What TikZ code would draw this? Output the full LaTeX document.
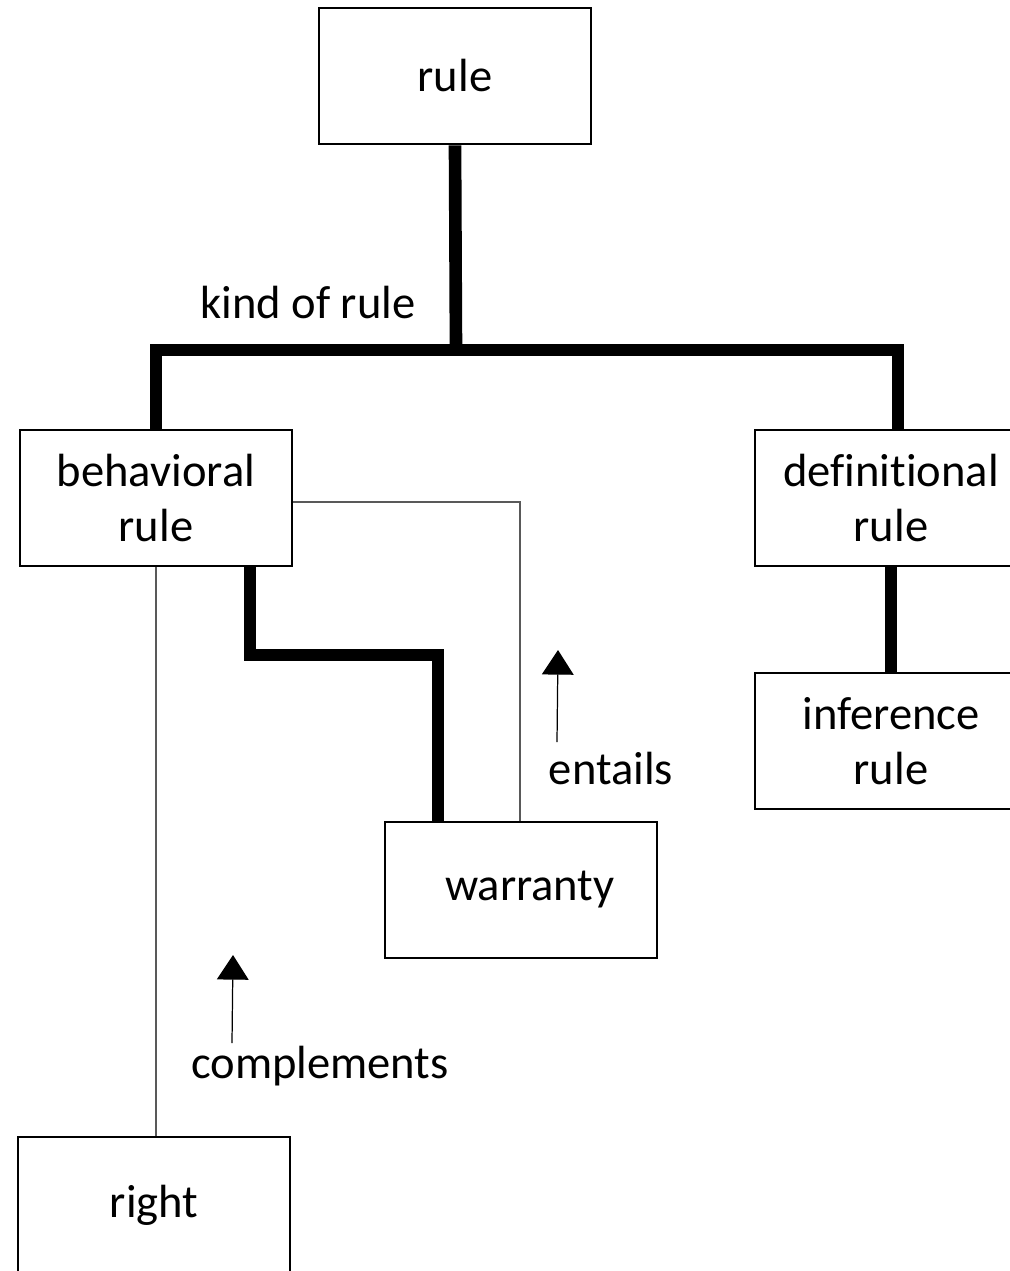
\documentclass[tikz,border=0pt]{standalone}
\usepackage{fontspec}
\setmainfont{Carlito}[Ligatures=NoCommon]
\usetikzlibrary{arrows.meta}
\tikzset{box/.style = {draw, line width=1.6pt, minimum width=5.44cm, minimum height=2.72cm, align=center, inner sep=0pt},
         bar/.style = {line width=7.2pt},
         link/.style = {gray!70!black, line width=0.9pt},
         up/.style = {line width=0.7pt, -{Triangle[width=18pt,length=14pt]}}}

\begin{document}
\begin{tikzpicture}[x=0.02cm, y=-0.02cm, font=\fontsize{26.5}{31}\selectfont]
\useasboundingbox (0,0) rectangle (1009,1271);
% boxes
\node[box] (rule) at (455,76) {rule};
\node[box] (beh) at (156,498) {behavioral\\rule};
\node[box] (def) at (891,498) {definitional\\rule};
\node[box] (inf) at (891,741) {inference\\rule};
\node[box] (war) at (521,890) {\hspace{10pt}warranty};
\node[box] (right) at (154,1205) {right};
% labels
\node (kind) at (308,303) {kind of rule};
\node (ent) at (611,768) {entails};
\node (comp) at (320,1066) {complements};
% thick links
\coordinate (split) at (456,350);
\draw[bar] (rule.south) -- (split);
\draw[bar] (beh.north) -- (beh.north |- split) -- ([xshift=0.14cm]def.north |- split) -- ([xshift=0.14cm]def.north);
\draw[bar] (def.south) -- (inf.north);
\coordinate (wa) at (250,655);
\coordinate (wb) at (438,655);
\draw[bar] (beh.south -| wa) -- (wa) -- (wb) -- (wb |- war.north);
% thin links
\coordinate (ec) at (520,502);
\draw[link] (beh.east |- ec) -- (ec) -- (ec |- war.north);
\draw[link] (beh.south) -- (beh.south |- right.north);
% arrows
\coordinate (ea) at (557,742);
\coordinate (eb) at (558,650);
\draw[up] (ea) -- (eb);
\coordinate (ca) at (232,1043);
\coordinate (cb) at (233,955);
\draw[up] (ca) -- (cb);
\end{tikzpicture}
\end{document}
